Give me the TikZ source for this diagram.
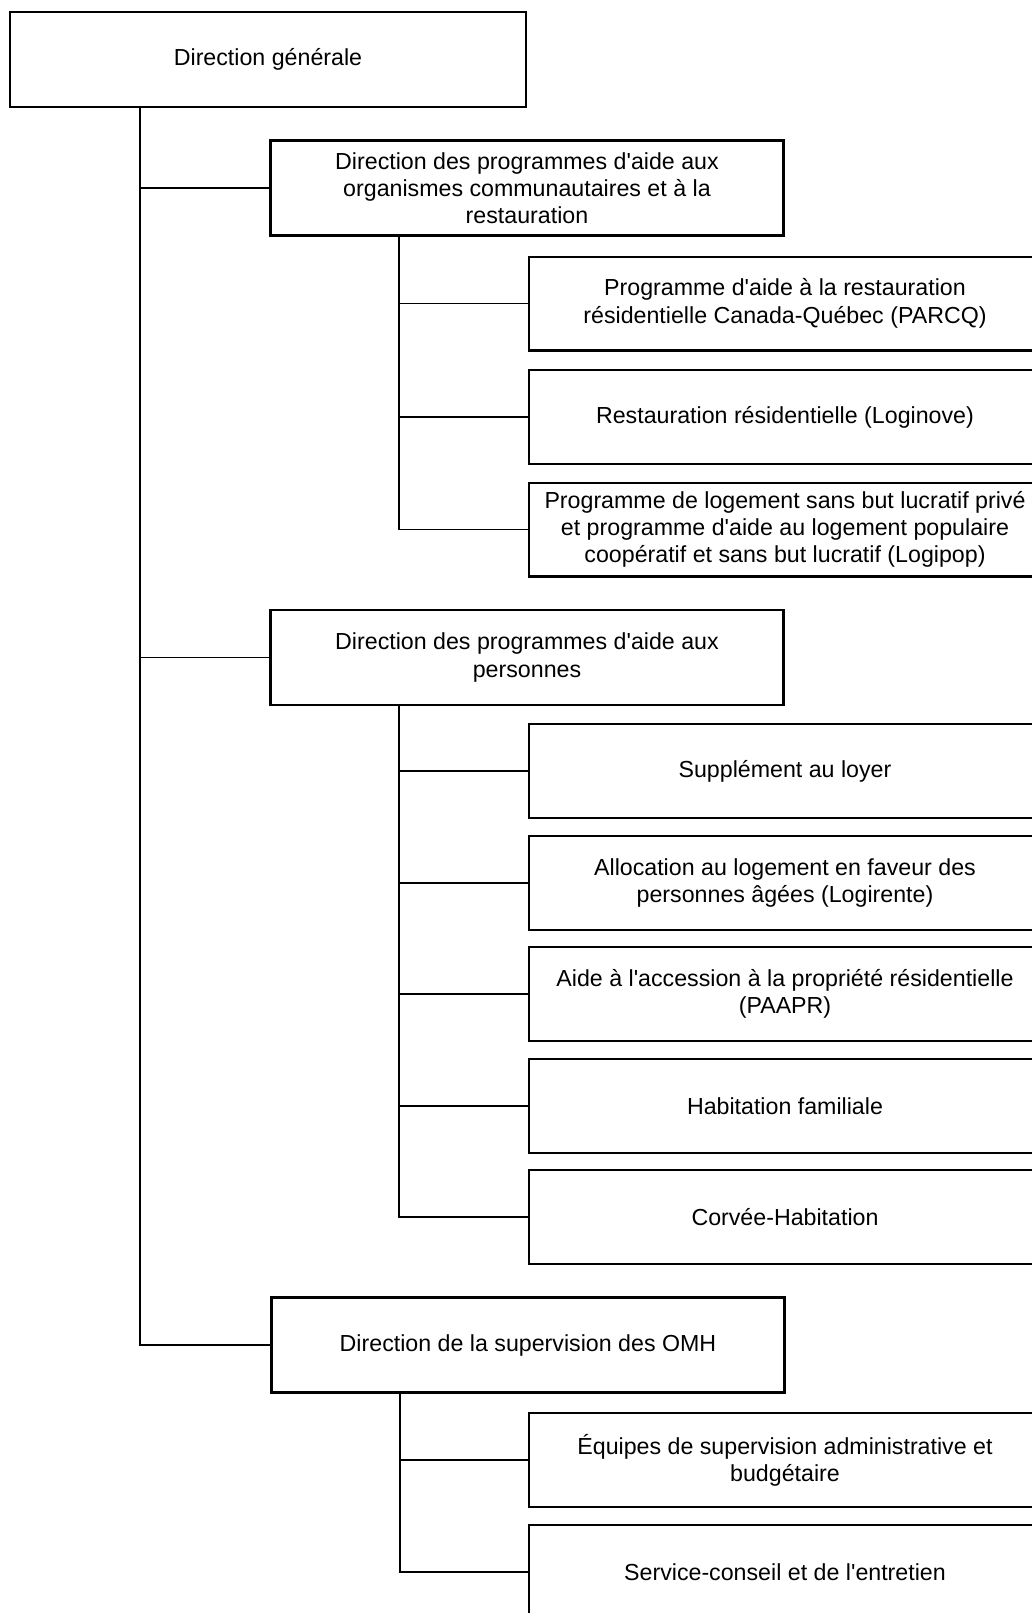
\documentclass[tikz,border=0pt]{standalone}
\usepackage{fontspec}
\setmainfont{Liberation Sans}
\newcommand{\qs}{\textquotesingle}
\begin{document}
\begin{tikzpicture}[x=0.5pt,y=-0.5pt,
  box/.style={draw, line width=1.2pt, align=center, inner sep=0pt,
    font=\fontsize{11.6}{13.65}\selectfont},
  topbox/.style={box, minimum width=258pt, minimum height=47.5pt},
  midbox/.style={box, minimum width=256.5pt, minimum height=47.6pt},
  leafbox/.style={box, minimum width=256pt, minimum height=46.8pt},
  link/.style={draw, line width=0.7pt}]
\path[use as bounding box] (0,0) rectangle (1032,1613);
\clip (0,0) rectangle (1032,1613);
% top
\node[topbox] (top) at (268,59.5) {Direction générale};
% level 2
\node[midbox] (A) at (527,188) {Direction des programmes d\qs aide aux\\organismes communautaires et à la\\restauration};
\node[midbox] (B) at (527,657.5) {Direction des programmes d\qs aide aux\\personnes};
\node[midbox] (C) at (528,1345) {Direction de la supervision des OMH};
% leaves A
\node[leafbox] (A1) at (785,303.5) {Programme d\qs aide à la restauration\\résidentielle Canada-Québec (PARCQ)};
\node[leafbox] (A2) at (785,417) {Restauration résidentielle (Loginove)};
\node[leafbox] (A3) at (785,529.5) {Programme de logement sans but lucratif privé\\et programme d\qs aide au logement populaire\\coopératif et sans but lucratif (Logipop)};
% leaves B
\node[leafbox] (B1) at (785,771) {Supplément au loyer};
\node[leafbox] (B2) at (785,883) {Allocation au logement en faveur des\\personnes âgées (Logirente)};
\node[leafbox] (B3) at (785,994) {Aide à l\qs accession à la propriété résidentielle\\(PAAPR)};
\node[leafbox] (B4) at (785,1106) {Habitation familiale};
\node[leafbox] (B5) at (785,1217) {Corvée-Habitation};
% leaves C
\node[leafbox] (C1) at (785,1460) {Équipes de supervision administrative et\\budgétaire};
\node[leafbox] (C2) at (785,1572) {Service-conseil et de l\qs entretien};
% trunks
\coordinate (tx) at (140,0);
\coordinate (ax) at (399,0);
\coordinate (cx) at (400,0);
\draw[link] (tx |- top.south) |- (C.west);
\draw[link] (tx |- A.west) -- (A.west);
\draw[link] (tx |- B.west) -- (B.west);
\draw[link] (ax |- A.south) |- (A3.west);
\draw[link] (ax |- A1.west) -- (A1.west);
\draw[link] (ax |- A2.west) -- (A2.west);
\draw[link] (ax |- B.south) |- (B5.west);
\draw[link] (ax |- B1.west) -- (B1.west);
\draw[link] (ax |- B2.west) -- (B2.west);
\draw[link] (ax |- B3.west) -- (B3.west);
\draw[link] (ax |- B4.west) -- (B4.west);
\draw[link] (cx |- C.south) |- (C2.west);
\draw[link] (cx |- C1.west) -- (C1.west);
\end{tikzpicture}
\end{document}
